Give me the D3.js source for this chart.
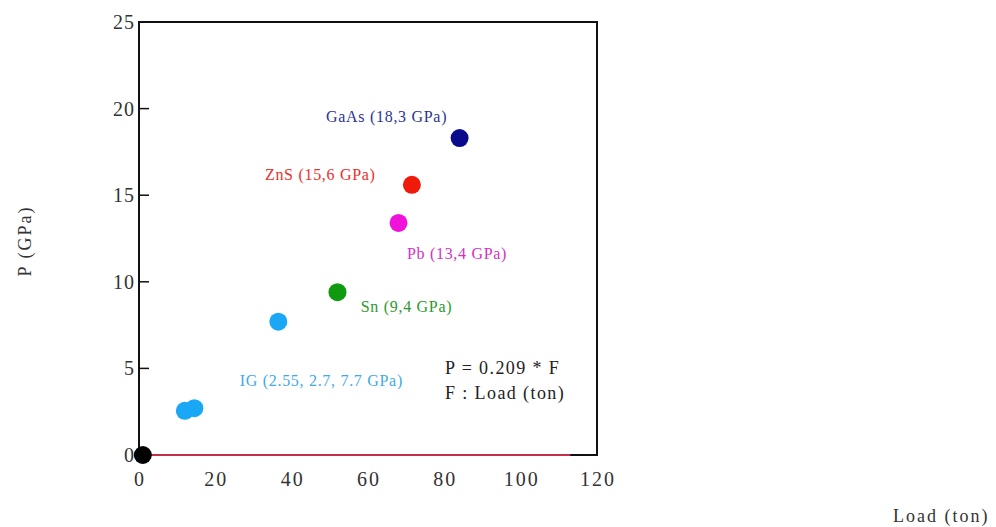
<!doctype html>
<html>
<head>
<meta charset="UTF-8">
<title>P vs Load</title>
<script src="https://cdn.jsdelivr.net/npm/d3@7"></script>
<style>
  body { margin:0; background:#fff; }
  text { font-family: "Liberation Serif", "DejaVu Serif", serif; }
</style>
</head>
<body>
<script>
// data
var loads    = [1, 12, 14.5, 36.5, 52, 68, 71.5, 84];
var pressure = [0, 2.55, 2.7, 7.7, 9.4, 13.4, 15.6, 18.3];
var colors   = ["#000000", "#1aa7f5", "#1aa7f5", "#1aa7f5", "#0f9a0f", "#f012d8", "#f01a0a", "#0a0a8c"];
var xTicks = [0, 20, 40, 60, 80, 100, 120];
var yTicks = [0, 5, 10, 15, 20, 25];
var labels = [
  {text: "GaAs (18,3 GPa)", x: 49, y: 19.2, color: "#2d3490"},
  {text: "ZnS (15,6 GPa)", x: 33, y: 15.9, color: "#e8302a"},
  {text: "Pb (13,4 GPa)", x: 70.2, y: 11.3, color: "#d431c4"},
  {text: "Sn (9,4 GPa)", x: 58.1, y: 8.25, color: "#2c9a2c"},
  {text: "IG (2.55, 2.7, 7.7 GPa)", x: 26.4, y: 4.0, color: "#42a9e8"}
];
var fitLine = [0, 113];

var width = 996, height = 527;
var x = d3.scaleLinear().domain([0, 120]).range([139, 597]);
var y = d3.scaleLinear().domain([0, 25]).range([455, 22]);

var svg = d3.select("body").append("svg")
  .attr("width", width).attr("height", height);

// frame
svg.append("rect")
  .attr("x", x(0)).attr("y", y(25))
  .attr("width", x(120) - x(0)).attr("height", y(0) - y(25))
  .attr("fill", "none").attr("stroke", "#111").attr("stroke-width", 2);

// y ticks (inward)
svg.selectAll(".ytick").data(yTicks.slice(1, 5)).enter().append("line")
  .attr("x1", x(0)).attr("x2", x(0) + 10)
  .attr("y1", function(d){ return y(d); }).attr("y2", function(d){ return y(d); })
  .attr("stroke", "#111").attr("stroke-width", 1.5);

svg.selectAll(".ylab").data(yTicks).enter().append("text")
  .attr("x", x(0) - 4).attr("y", function(d){ return y(d) + 7; })
  .attr("text-anchor", "end").attr("font-size", 20).attr("letter-spacing", 1)
  .attr("fill", "#333")
  .text(function(d){ return d; });

svg.selectAll(".xlab").data(xTicks).enter().append("text")
  .attr("x", function(d){ return x(d) + 1; }).attr("y", 486)
  .attr("text-anchor", "middle").attr("font-size", 20).attr("letter-spacing", 2)
  .attr("fill", "#333")
  .text(function(d){ return d; });

// red line on the x axis
svg.append("line")
  .attr("x1", x(fitLine[0])).attr("x2", x(fitLine[1]))
  .attr("y1", y(0)).attr("y2", y(0))
  .attr("stroke", "#c0304a").attr("stroke-width", 2);

// points
svg.selectAll(".dot").data(loads).enter().append("circle")
  .attr("cx", function(d){ return x(d); })
  .attr("cy", function(d, i){ return y(pressure[i]); })
  .attr("r", 9)
  .attr("fill", function(d, i){ return colors[i]; });

// labels
svg.selectAll(".lab").data(labels).enter().append("text")
  .attr("x", function(d){ return x(d.x); })
  .attr("y", function(d){ return y(d.y); })
  .attr("font-size", 16).attr("letter-spacing", 0.7)
  .attr("fill", function(d){ return d.color; })
  .text(function(d){ return d.text; });

svg.append("text").attr("x", 445).attr("y", 374).attr("font-size", 18).attr("letter-spacing", 1.4)
  .attr("fill", "#222").text("P = 0.209 * F");
svg.append("text").attr("x", 445).attr("y", 399).attr("font-size", 18).attr("letter-spacing", 1.4)
  .attr("fill", "#222").text("F : Load (ton)");

// axis titles
svg.append("text").attr("x", 893).attr("y", 522)
  .attr("font-size", 18).attr("letter-spacing", 2).attr("fill", "#333").text("Load (ton)");
svg.append("text")
  .attr("transform", "translate(31,241) rotate(-90)")
  .attr("text-anchor", "middle").attr("font-size", 18).attr("letter-spacing", 2)
  .attr("fill", "#333")
  .text("P (GPa)");
</script>
</body>
</html>
